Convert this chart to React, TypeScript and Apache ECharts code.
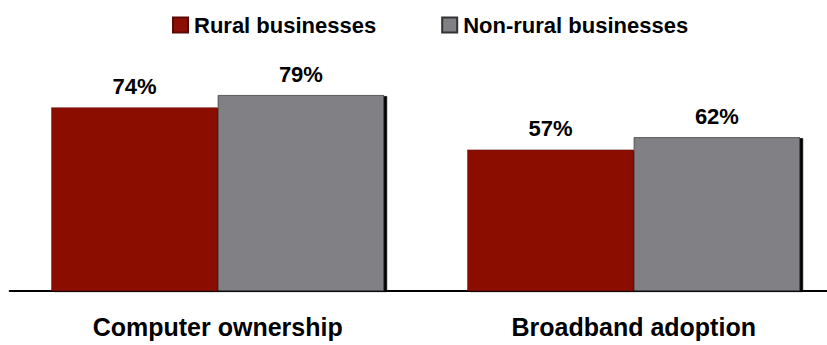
import React, { useEffect, useRef } from "react";
import * as echarts from "echarts";

const categories = ["Computer ownership", "Broadband adoption"];
const seriesNames = ["Rural businesses", "Non-rural businesses"];
const ruralValues = [74, 57];
const nonRuralValues = [79, 62];

const FONT = "Liberation Sans, Arial, Helvetica, sans-serif";

export default function App() {
  const ref = useRef<HTMLDivElement>(null);
  useEffect(() => {
    if (!ref.current) return;
    const chart = echarts.init(ref.current, null, { renderer: "svg" });
    const label = {
      show: true,
      position: "top" as const,
      distance: 10,
      formatter: "{c}%",
      fontFamily: FONT,
      fontWeight: "bold" as const,
      fontSize: 22,
      color: "#000",
    };
    chart.setOption({
      animation: false,
      backgroundColor: "#fff",
      legend: {
        left: 167,
        top: 9,
        itemWidth: 15,
        itemHeight: 15,
        itemGap: 65,
        icon: "rect",
        textStyle: {
          fontFamily: FONT,
          fontWeight: "bold",
          fontSize: 22,
          color: "#000",
          padding: [0, 0, 0, 1],
        },
        data: seriesNames,
      },
      grid: {
        left: 9.7,
        width: 832,
        top: 43,
        bottom: 54,
        containLabel: false,
        outerBoundsMode: "none",
      },
      xAxis: {
        type: "category",
        data: categories,
        axisLine: { show: true, lineStyle: { color: "#000", width: 2 } },
        axisTick: { show: false },
        axisLabel: {
          margin: 23,
          fontFamily: FONT,
          fontWeight: "bold",
          fontSize: 25,
          color: "#000",
          lineHeight: 25,
          verticalAlign: "top",
        },
      },
      yAxis: {
        type: "value",
        min: 0,
        max: 100,
        show: false,
        splitLine: { show: false },
      },
      series: [
        {
          name: seriesNames[0],
          type: "bar",
          data: ruralValues,
          barGap: "0%",
          barCategoryGap: "20%",
          itemStyle: {
            color: "#8B0F05",
            borderColor: "#5a0a04",
            borderWidth: 0.5,
            shadowColor: "#000",
            shadowOffsetX: 3,
            shadowOffsetY: 1,
            shadowBlur: 0,
          },
          label,
        },
        {
          name: seriesNames[1],
          type: "bar",
          data: nonRuralValues,
          barGap: "0%",
          barCategoryGap: "20%",
          itemStyle: {
            color: "#808085",
            borderColor: "#333",
            borderWidth: 0.7,
            shadowColor: "#000",
            shadowOffsetX: 3,
            shadowOffsetY: 1,
            shadowBlur: 0,
          },
          label,
        },
      ],
    });
    return () => chart.dispose();
  }, []);
  return (
    <div
      ref={ref}
      style={{ position: "absolute", left: 0, top: 0, width: 827, height: 345, overflow: "hidden" }}
    />
  );
}
